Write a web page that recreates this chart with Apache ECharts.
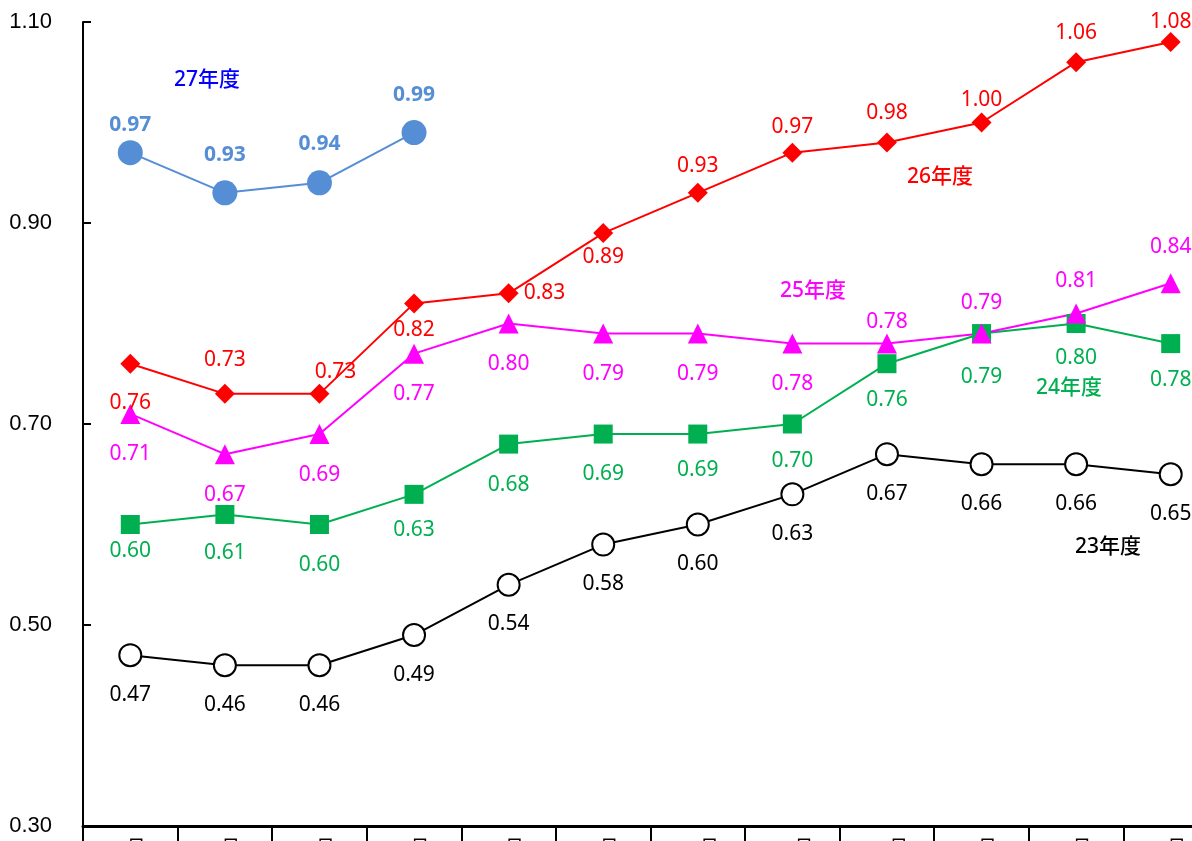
<!DOCTYPE html>
<html lang="ja">
<head>
<meta charset="UTF-8">
<title>年度別推移</title>
<style>
  html, body { margin: 0; padding: 0; background: #fff; }
  #chart { width: 1192px; height: 841px; }
</style>
</head>
<body>
<div id="chart"></div>
<script src="https://cdn.jsdelivr.net/npm/echarts@6/dist/echarts.min.js"></script>
<script>
// 月（軸ラベルは下端で切れている）
const months = ['4月', '5月', '6月', '7月', '8月', '9月', '10月', '11月', '12月', '1月', '2月', '3月'];

// 各年度の値
const y23 = [0.47, 0.46, 0.46, 0.49, 0.54, 0.58, 0.60, 0.63, 0.67, 0.66, 0.66, 0.65];
const y24 = [0.60, 0.61, 0.60, 0.63, 0.68, 0.69, 0.69, 0.70, 0.76, 0.79, 0.80, 0.78];
const y25 = [0.71, 0.67, 0.69, 0.77, 0.80, 0.79, 0.79, 0.78, 0.78, 0.79, 0.81, 0.84];
const y26 = [0.76, 0.73, 0.73, 0.82, 0.83, 0.89, 0.93, 0.97, 0.98, 1.00, 1.06, 1.08];
const y27 = [0.97, 0.93, 0.94, 0.99];

const yTicks = [0.30, 0.50, 0.70, 0.90, 1.10];

// ラベル位置・距離（見た目の調整用）
const pos24 = Array(12).fill('bottom');
const dist24 = [7, 19, 21, 16, 21, 20, 16, 17, 16, 23, 15, 16];
const pos25 = ['bottom', 'bottom', 'bottom', 'bottom', 'bottom', 'bottom', 'bottom', 'bottom', 'top', 'top', 'top', 'top'];
const dist25 = [20, 20, 20, 20, 20, 20, 20, 20, 1, 10, 12, 16];
const pos26 = ['bottom', 'top', 'top', 'bottom', 'right', 'bottom', 'top', 'top', 'top', 'top', 'top', 'top'];
const dist26 = [19, 13, 1, 6, 5, 3, 6, 5, 9, 2, 9, 0];
const shift26 = [0, 0, 16, 0, 0, 0, 0, 0, 0, 0, 0, 0];
const pos27 = ['top', 'top', 'top', 'top'];
const dist27 = [5, 15, 16, 15];

const FONT = '"Noto Sans", "Noto Sans CJK JP", sans-serif';

function withLabels(values, positions, dists, shifts) {
    return values.map((v, i) => ({
        value: v,
        label: {
            position: positions[i],
            distance: dists[i],
            offset: [shifts ? shifts[i] : 0, 0]
        }
    }));
}

function lineSeries(name, data, color, symbol, size, labelPos, labelDist, extra) {
    return Object.assign({
        name: name,
        type: 'line',
        data: data,
        symbol: symbol,
        symbolSize: size,
        lineStyle: { color: color, width: 2 },
        itemStyle: { color: color },
        label: {
            show: true,
            position: labelPos,
            distance: labelDist,
            color: color,
            fontSize: 21,
            fontFamily: FONT,
            formatter: p => p.value.toFixed(2)
        },
        animation: false
    }, extra || {});
}

const chart = echarts.init(document.getElementById('chart'));

chart.setOption({
    backgroundColor: '#fff',
    grid: { left: 83, top: 22, bottom: 15, right: -26, containLabel: false, outerBoundsMode: 'none' },
    xAxis: {
        type: 'category',
        data: months,
        boundaryGap: true,
        axisLine: { lineStyle: { color: '#000', width: 3 } },
        axisTick: { show: true, interval: 0, length: 16, lineStyle: { color: '#000', width: 2 } },
        axisLabel: { margin: 13, fontSize: 20, color: '#000', fontFamily: FONT, interval: 0 }
    },
    yAxis: {
        type: 'value',
        min: yTicks[0],
        max: yTicks[yTicks.length - 1],
        interval: 0.2,
        axisLine: { show: true, lineStyle: { color: '#000', width: 2 } },
        axisTick: { show: true, inside: true, length: 8, lineStyle: { color: '#000', width: 2 } },
        splitLine: { show: false },
        axisLabel: {
            margin: 31,
            fontSize: 22,
            color: '#000',
            fontFamily: '"Liberation Sans", Arial, sans-serif',
            formatter: v => v.toFixed(2)
        }
    },
    series: [
        lineSeries('23年度', y23, '#000000', 'circle', 22, 'bottom', 17, {
            itemStyle: { color: '#ffffff', borderColor: '#000000', borderWidth: 2 }
        }),
        lineSeries('24年度', withLabels(y24, pos24, dist24), '#00B050', 'rect', 19, 'bottom', 16),
        lineSeries('25年度', withLabels(y25, pos25, dist25), '#FF00FF', 'triangle', 20, 'bottom', 20),
        lineSeries('26年度', withLabels(y26, pos26, dist26, shift26), '#FF0000', 'diamond', 20, 'top', 4),
        lineSeries('27年度', withLabels(y27, pos27, dist27), '#558ED5', 'circle', 25, 'top', 4, {
            label: {
                show: true, position: 'top', distance: 4, color: '#558ED5',
                fontSize: 21, fontWeight: 'bold', fontFamily: FONT,
                formatter: p => p.value.toFixed(2)
            }
        })
    ],
    graphic: [
        { type: 'text', left: 174, top: 70, style: { text: '27年度', fill: '#0000FF', font: '500 21px ' + FONT } },
        { type: 'text', left: 907, top: 167, style: { text: '26年度', fill: '#FF0000', font: '500 21px ' + FONT } },
        { type: 'text', left: 780, top: 281, style: { text: '25年度', fill: '#FF00FF', font: '500 21px ' + FONT } },
        { type: 'text', left: 1036, top: 378, style: { text: '24年度', fill: '#00B050', font: '500 21px ' + FONT } },
        { type: 'text', left: 1075, top: 537, style: { text: '23年度', fill: '#000000', font: '500 21px ' + FONT } }
    ]
});
</script>
</body>
</html>
